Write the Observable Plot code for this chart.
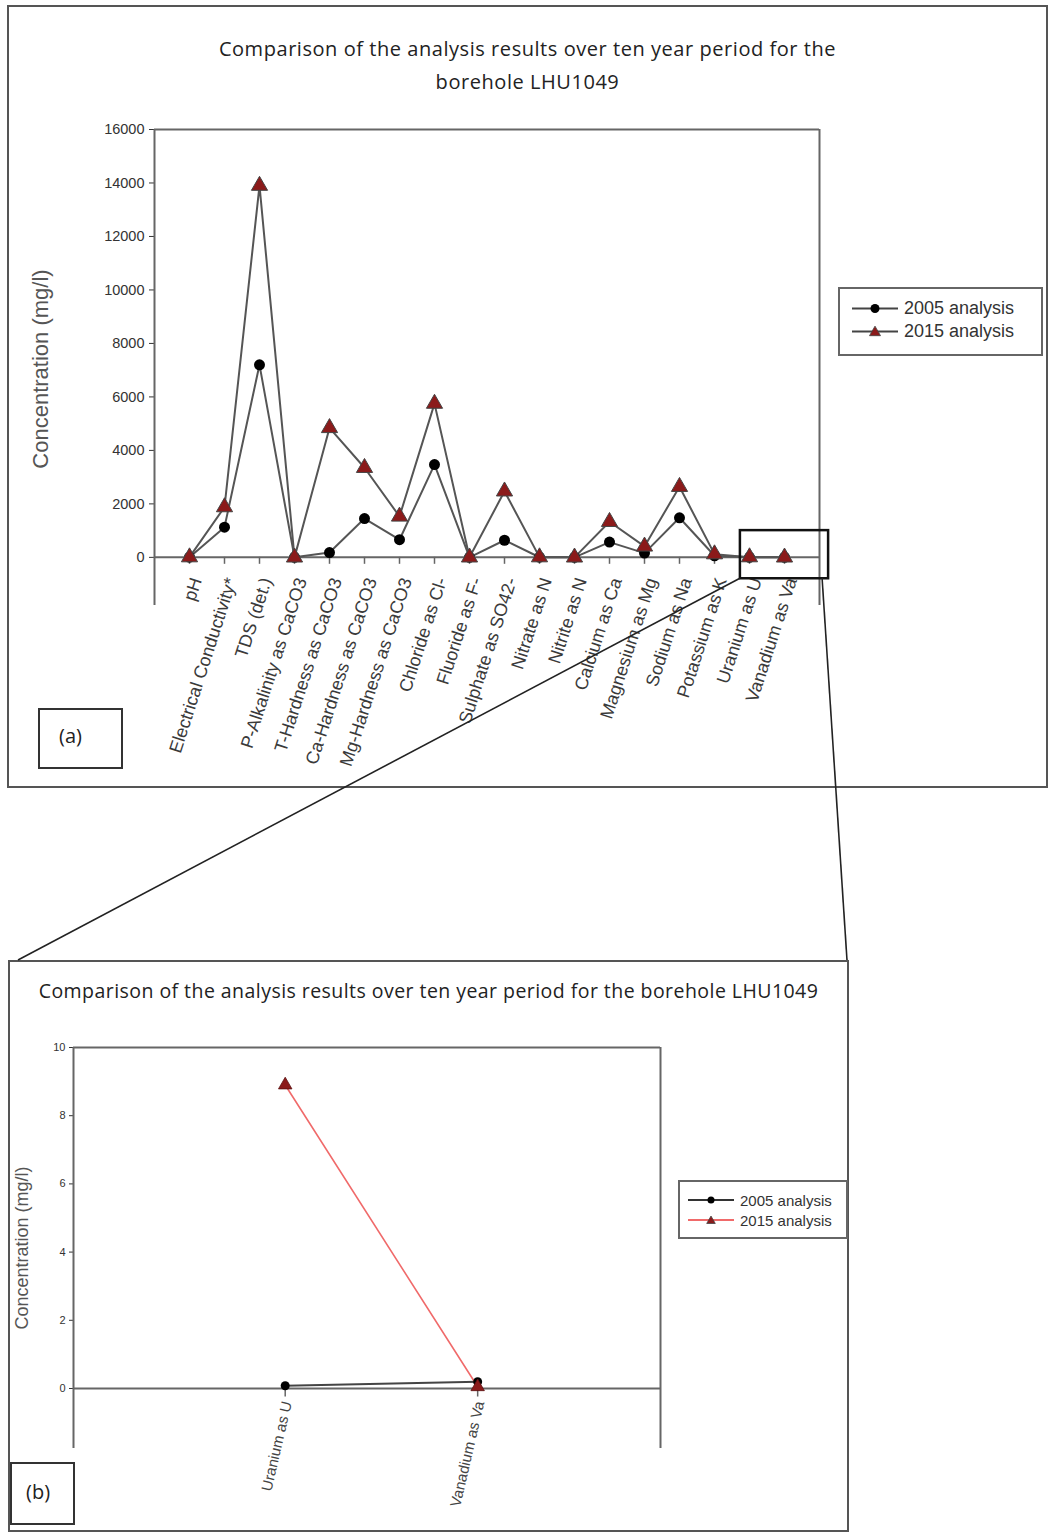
<!DOCTYPE html>
<html>
<head>
<meta charset="utf-8">
<script src="https://cdn.jsdelivr.net/npm/d3@7"></script>
<script src="https://cdn.jsdelivr.net/npm/@observablehq/plot@0.6"></script>
<style>
  html, body { margin: 0; padding: 0; background: #fff; }
  #page { position: relative; width: 1049px; height: 1532px; overflow: hidden; font-family: "Liberation Sans", Arial, sans-serif; }
  .panel { position: absolute; border: 2px solid #555; box-sizing: border-box; background: #fff; }
  .title { position: absolute; font-family: "Open Sans", sans-serif; color: #222; text-align: center; white-space: nowrap; }
  .plotbox { position: absolute; }
  .legend { position: absolute; border: 2px solid #666; box-sizing: border-box; background: #fff; font-family: "Liberation Sans", Arial, sans-serif; color: #333; }
  .legend .row { display: flex; align-items: center; white-space: nowrap; }
  .tag { position: absolute; border: 2px solid #333; box-sizing: border-box; font-family: "Open Sans", sans-serif; color: #222; }
  #overlay { position: absolute; left: 0; top: 0; pointer-events: none; }
</style>
</head>
<body>
<div id="page">
  <div class="panel" id="panelA" style="left:7px; top:5px; width:1041px; height:783px;"></div>
  <div class="title" id="titleA" style="left:7px; width:1041px; top:32px; font-size:20px; letter-spacing:0.55px; line-height:33px;"></div>
  <div class="plotbox" id="plotA" style="left:20px; top:110px;"></div>
  <div class="legend" id="legendA" style="left:838px; top:287px; width:205px; height:69px; padding:8px 0 0 12px; font-size:18px;"></div>
  <div class="tag" style="left:38px; top:708px; width:85px; height:61px; font-size:20px; padding:12px 0 0 19px;">(a)</div>

  <div class="panel" id="panelB" style="left:8px; top:960px; width:841px; height:572px;"></div>
  <div class="title" id="titleB" style="left:8px; width:841px; top:977px; font-size:19.5px; letter-spacing:0.45px; line-height:28px;"></div>
  <div class="plotbox" id="plotB" style="left:10px; top:1030px;"></div>
  <div class="legend" id="legendB" style="left:678px; top:1180px; width:170px; height:59px; padding:8px 0 0 8px; font-size:15px;"></div>
  <div class="tag" style="left:10px; top:1462px; width:65px; height:63px; font-size:20px; padding:14px 0 0 14px;">(b)</div>

  <svg id="overlay" width="1049" height="1532"></svg>
</div>
<script>
// ---------------- data ----------------
const chartTitle = "Comparison of the analysis results over ten year period for the borehole LHU1049";
const yLabel = "Concentration (mg/l)";
const seriesNames = ["2005 analysis", "2015 analysis"];
const categories = [
  "pH", "Electrical Conductivity*", "TDS (det.)", "P-Alkalinity as CaCO3",
  "T-Hardness as CaCO3", "Ca-Hardness as CaCO3", "Mg-Hardness as CaCO3",
  "Chloride as Cl-", "Fluoride as F-", "Sulphate as SO42-", "Nitrate as N",
  "Nitrite as N", "Calcium as Ca", "Magnesium as Mg", "Sodium as Na",
  "Potassium as K", "Uranium as U", "Vanadium as Va"
];
const analysis2005 = [7.8, 1130, 7200, 0, 180, 1450, 660, 3470, 1.2, 640, 5, 0.1, 570, 160, 1480, 60, 0.08, 0.2];
const analysis2015 = [7.6, 1880, 13900, 0, 4840, 3350, 1530, 5750, 1.5, 2470, 8, 0.2, 1330, 410, 2640, 120, 8.9, 0.05];
const yTicksA = [0, 2000, 4000, 6000, 8000, 10000, 12000, 14000, 16000];
const yTicksB = [0, 2, 4, 6, 8, 10];
const zoomCategories = ["Uranium as U", "Vanadium as Va"];

// ---------------- helpers ----------------
const rowsA = categories.map((c, i) => ({cat: c, pos: i + 1, v2005: analysis2005[i], v2015: analysis2015[i]}));
const rowsB = zoomCategories.map((c, i) => {
  const k = categories.indexOf(c);
  return {cat: c, pos: i + 1, v2005: analysis2005[k], v2015: analysis2015[k]};
});

const axisGray = "#666";
const darkRed = "#8b1a1a";

// ---------------- titles ----------------
document.getElementById("titleA").innerHTML =
  "Comparison of the analysis results over ten year period for the<br>borehole LHU1049";
document.getElementById("titleB").textContent = chartTitle;

// ---------------- panel (a) ----------------
const posU = categories.indexOf(zoomCategories[0]) + 1;
const posV = categories.indexOf(zoomCategories[1]) + 1;
const zoomBox = {x1: posU - 0.26, x2: posV + 1.26, y1: -800, y2: 1000};

const plotA = Plot.plot({
  width: 820, height: 690,
  marginLeft: 134, marginRight: 21, marginTop: 19, marginBottom: 195,
  style: {fontFamily: "Liberation Sans, Arial, sans-serif", fontSize: "14.5px", background: "transparent", color: "#333"},
  x: {domain: [0, categories.length + 1], axis: null},
  y: {domain: [-1800, 16000], ticks: yTicksA, tickSize: 5, tickPadding: 5, tickFormat: d => String(d), label: null},
  marks: [
    Plot.ruleY([16000], {stroke: axisGray, strokeWidth: 2}),
    Plot.ruleX([0, categories.length + 1], {stroke: axisGray, strokeWidth: 2}),
    Plot.ruleY([0], {stroke: axisGray, strokeWidth: 2}),
    Plot.ruleX(rowsA, {x: "pos", y1: 0, y2: -260, stroke: axisGray, strokeWidth: 1.5}),
    Plot.text(rowsA, {x: "pos", y: () => 0, text: "cat", rotate: -72, textAnchor: "end", dy: 21, dx: 7, fontSize: 18, fill: "#3a3a3a"}),
    Plot.line(rowsA, {x: "pos", y: "v2005", stroke: "#555", strokeWidth: 2}),
    Plot.line(rowsA, {x: "pos", y: "v2015", stroke: "#555", strokeWidth: 2}),
    Plot.dot(rowsA, {x: "pos", y: "v2005", symbol: "circle", r: 5.5, fill: "#000"}),
    Plot.dot(rowsA, {x: "pos", y: "v2015", symbol: "triangle", r: 6, fill: darkRed, stroke: "#444", strokeWidth: 1}),
    Plot.rect([zoomBox], {x1: "x1", x2: "x2", y1: "y1", y2: "y2", fill: "none", stroke: "#111", strokeWidth: 2.5})
  ]
});
document.getElementById("plotA").appendChild(plotA);
// y label (a)
{
  const svg = d3.select(plotA);
  svg.append("text")
    .attr("transform", `translate(28, ${369 - 110}) rotate(-90)`)
    .attr("text-anchor", "middle")
    .attr("font-size", 22)
    .attr("fill", "#555")
    .attr("font-family", "Liberation Sans, Arial, sans-serif")
    .text(yLabel);
}

// ---------------- panel (b) ----------------
const plotB = Plot.plot({
  width: 700, height: 500,
  marginLeft: 63, marginRight: 50, marginTop: 17, marginBottom: 82,
  style: {fontFamily: "Liberation Sans, Arial, sans-serif", fontSize: "11px", background: "transparent", color: "#333"},
  x: {domain: [-0.1, zoomCategories.length + 0.95], axis: null},
  y: {domain: [-1.76, 10], ticks: yTicksB, tickSize: 4, tickPadding: 4, tickFormat: d => String(d), label: null},
  marks: [
    Plot.ruleY([10], {stroke: axisGray, strokeWidth: 2}),
    Plot.ruleX([-0.1, zoomCategories.length + 0.95], {stroke: axisGray, strokeWidth: 2}),
    Plot.ruleY([0], {stroke: axisGray, strokeWidth: 2}),
    Plot.ruleX(rowsB, {x: "pos", y1: 0, y2: -0.25, stroke: axisGray, strokeWidth: 1.5}),
    Plot.text(rowsB, {x: "pos", y: () => 0, text: "cat", rotate: -77, textAnchor: "end", dy: 13, dx: 2, fontSize: 15, fill: "#444"}),
    Plot.line(rowsB, {x: "pos", y: "v2005", stroke: "#444", strokeWidth: 2}),
    Plot.line(rowsB, {x: "pos", y: "v2015", stroke: "#f06a6a", strokeWidth: 1.6}),
    Plot.dot(rowsB, {x: "pos", y: "v2005", symbol: "circle", r: 4.5, fill: "#000"}),
    Plot.dot(rowsB, {x: "pos", y: "v2015", symbol: "triangle", r: 5, fill: darkRed, stroke: "#5a1010", strokeWidth: 0.8})
  ]
});
document.getElementById("plotB").appendChild(plotB);
{
  const svg = d3.select(plotB);
  svg.append("text")
    .attr("transform", `translate(18, ${1248 - 1030}) rotate(-90)`)
    .attr("text-anchor", "middle")
    .attr("font-size", 18)
    .attr("fill", "#555")
    .attr("font-family", "Liberation Sans, Arial, sans-serif")
    .text(yLabel);
}

// ---------------- legends ----------------
function buildLegend(id, lineColors, markerSize, gap) {
  const el = document.getElementById(id);
  seriesNames.forEach((name, i) => {
    const row = document.createElement("div");
    row.className = "row";
    row.style.height = gap + "px";
    const w = 46, h = gap;
    const sym = i === 0
      ? `<circle cx="${w/2}" cy="${h/2}" r="${markerSize}" fill="#000"/>`
      : `<path d="${d3.symbol(d3.symbolTriangle, markerSize * markerSize * 2.6)()}" transform="translate(${w/2},${h/2 + 1})" fill="${darkRed}" stroke="#444" stroke-width="0.8"/>`;
    row.innerHTML = `<svg width="${w}" height="${h}" style="flex:none"><line x1="0" x2="${w}" y1="${h/2}" y2="${h/2}" stroke="${lineColors[i]}" stroke-width="2"/>${sym}</svg><span style="margin-left:6px">${name}</span>`;
    el.appendChild(row);
  });
}
buildLegend("legendA", ["#444", "#444"], 4.5, 23);
buildLegend("legendB", ["#333", "#f06a6a"], 3.5, 20);

// ---------------- zoom connectors ----------------
function pagePos(svgEl, px, py) {
  const pr = document.getElementById("page").getBoundingClientRect();
  const r = svgEl.getBoundingClientRect();
  return [r.left - pr.left + px, r.top - pr.top + py];
}
const sx = plotA.scale("x"), sy = plotA.scale("y");
const bl = pagePos(plotA, sx.apply(zoomBox.x1), sy.apply(zoomBox.y1));
const br = pagePos(plotA, sx.apply(zoomBox.x2), sy.apply(zoomBox.y1));
const pb = document.getElementById("panelB");
const bx0 = pb.offsetLeft + 10, bx1 = pb.offsetLeft + pb.offsetWidth - 2, by0 = pb.offsetTop;
const ov = d3.select("#overlay");
ov.append("line").attr("x1", bl[0]).attr("y1", bl[1]).attr("x2", bx0).attr("y2", by0)
  .attr("stroke", "#222").attr("stroke-width", 1.6);
ov.append("line").attr("x1", br[0] - 6).attr("y1", br[1]).attr("x2", bx1).attr("y2", by0)
  .attr("stroke", "#222").attr("stroke-width", 1.6);
</script>
</body>
</html>
